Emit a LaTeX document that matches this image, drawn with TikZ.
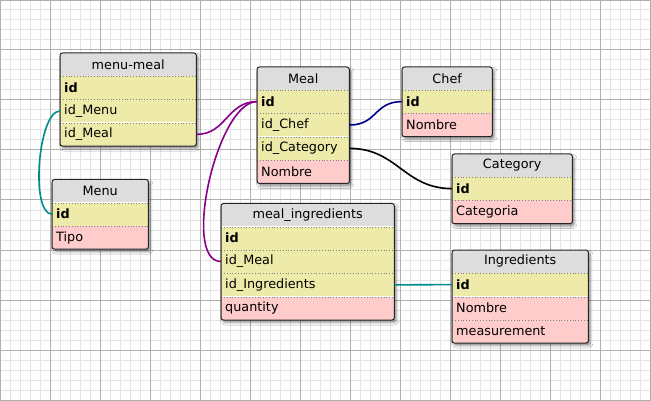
\documentclass[tikz,border=0pt]{standalone}
\usepackage{fontspec}
\setmainfont{DejaVu Sans}
\usetikzlibrary{positioning, backgrounds, shadows.blur}
\definecolor{cHead}{RGB}{221, 221, 221}
\definecolor{cKey}{RGB}{238, 235, 170}
\definecolor{cAttr}{RGB}{255, 204, 204}
\definecolor{cMinor}{RGB}{228, 228, 228}
\definecolor{cMajor}{RGB}{176, 176, 176}
\definecolor{lTeal}{RGB}{0, 139, 139}
\definecolor{lPurple}{RGB}{139, 0, 139}
\definecolor{lNavy}{RGB}{0, 0, 139}
\newcommand{\tblfont}{\fontsize{12.8}{15}\selectfont}

\begin{document}
\begin{tikzpicture}[
    x=1pt, y=-1pt,
    font=\tblfont,
    every node/.style={inner xsep=4pt, inner ysep=0pt, anchor=north west},
    head/.style={fill=cHead, text width=#1, align=center, minimum height=22.5pt},
    field/.style={
        text width=#1, align=left, minimum height=23pt,
        path picture={\draw[gray, dotted, line width=0.8pt]
            ([yshift=-0.4pt]path picture bounding box.north west) --
            ([yshift=-0.4pt]path picture bounding box.north east);}
    },
    pkey/.style={field=#1, fill=cKey, font=\tblfont\bfseries},
    fkey/.style={field=#1, fill=cKey},
    attr/.style={field=#1, fill=cAttr},
    boxshadow/.style={fill=white, rounded corners=2.5pt,
        blur shadow={shadow xshift=2pt, shadow yshift=-2.5pt,
            shadow blur radius=2.5pt, shadow opacity=45}},
    frame/.style={draw=black!85, line width=1pt, rounded corners=2.5pt},
    link/.style={line width=1.6pt, color=#1}
]

\useasboundingbox (0, 0) rectangle (651, 401);

% grid paper
\begin{scope}[on background layer]
\fill[white] (0, 0) rectangle (651, 401);
\draw[cMinor, line width=1pt, step=10pt] (0, 0) grid (651, 401);
\draw[cMajor, line width=1pt, step=50pt] (0, 0) grid (651, 401);
\end{scope}

% menu-meal
\node[head=128pt] (mmHead) at (60, 53) {menu-meal};
\node[pkey=128pt, below=0pt of mmHead] (mmId) {id};
\node[fkey=128pt, below=0pt of mmId] (mmMenu) {id\_Menu};
\node[fkey=128pt, below=0pt of mmMenu] (mmMeal) {id\_Meal};

% Meal
\node[head=84pt] (mealHead) at (257, 67) {Meal};
\node[pkey=84pt, below=0pt of mealHead] (mealId) {id};
\node[fkey=84pt, below=0pt of mealId] (mealChef) {id\_Chef};
\node[fkey=84pt, below=0pt of mealChef] (mealCat) {id\_Category};
\node[attr=84pt, below=0pt of mealCat] (mealName) {Nombre};

% Chef
\node[head=82pt] (chefHead) at (402, 67) {Chef};
\node[pkey=82pt, below=0pt of chefHead] (chefId) {id};
\node[attr=82pt, below=0pt of chefId] (chefName) {Nombre};

% Category
\node[head=112pt] (catHead) at (452, 154) {Category};
\node[pkey=112pt, below=0pt of catHead] (catId) {id};
\node[attr=112pt, below=0pt of catId] (catName) {Categoria};

% Menu
\node[head=88pt] (menuHead) at (52, 179.5) {Menu};
\node[pkey=88pt, below=0pt of menuHead] (menuId) {id};
\node[attr=88pt, below=0pt of menuId] (menuTipo) {Tipo};

% meal_ingredients
\node[head=165pt] (miHead) at (221, 203.5) {meal\_ingredients};
\node[pkey=165pt, below=0pt of miHead] (miId) {id};
\node[fkey=165pt, below=0pt of miId] (miMeal) {id\_Meal};
\node[fkey=165pt, below=0pt of miMeal] (miIngr) {id\_Ingredients};
\node[attr=165pt, below=0pt of miIngr] (miQty) {quantity};

% Ingredients
\node[head=128pt] (ingHead) at (452, 250) {Ingredients};
\node[pkey=128pt, below=0pt of ingHead] (ingId) {id};
\node[attr=128pt, below=0pt of ingId] (ingName) {Nombre};
\node[attr=128pt, below=0pt of ingName] (ingMeas) {measurement};

% shadows under the tables
\begin{scope}[on background layer]
\path[boxshadow] (mmHead.north west) rectangle (mmMeal.south east);
\path[boxshadow] (mealHead.north west) rectangle (mealName.south east);
\path[boxshadow] (chefHead.north west) rectangle (chefName.south east);
\path[boxshadow] (catHead.north west) rectangle (catName.south east);
\path[boxshadow] (menuHead.north west) rectangle (menuTipo.south east);
\path[boxshadow] (miHead.north west) rectangle (miQty.south east);
\path[boxshadow] (ingHead.north west) rectangle (ingMeas.south east);
\end{scope}

% table outlines
\draw[frame] (mmHead.north west) rectangle (mmMeal.south east);
\draw[frame] (mealHead.north west) rectangle (mealName.south east);
\draw[frame] (chefHead.north west) rectangle (chefName.south east);
\draw[frame] (catHead.north west) rectangle (catName.south east);
\draw[frame] (menuHead.north west) rectangle (menuTipo.south east);
\draw[frame] (miHead.north west) rectangle (miQty.south east);
\draw[frame] (ingHead.north west) rectangle (ingMeas.south east);

% relations
\draw[link=lTeal] (mmMenu.west) .. controls +(-22, 0) and +(-22, 0) .. (menuId.west);
\draw[link=lPurple] (mmMeal.east) .. controls +(30, 0) and +(-30, 0) .. (mealId.west);
\draw[link=lPurple] (miMeal.west) .. controls +(-40, 0) and +(-40, 0) .. (mealId.west);
\draw[link=lNavy] (mealChef.east) .. controls +(28, 0) and +(-28, 0) .. (chefId.west);
\draw[link=black] (mealCat.east) .. controls +(48, 0) and +(-48, 0) .. (catId.west);
\draw[link=lTeal] (miIngr.east) -- (ingId.west);

\end{tikzpicture}
\end{document}
